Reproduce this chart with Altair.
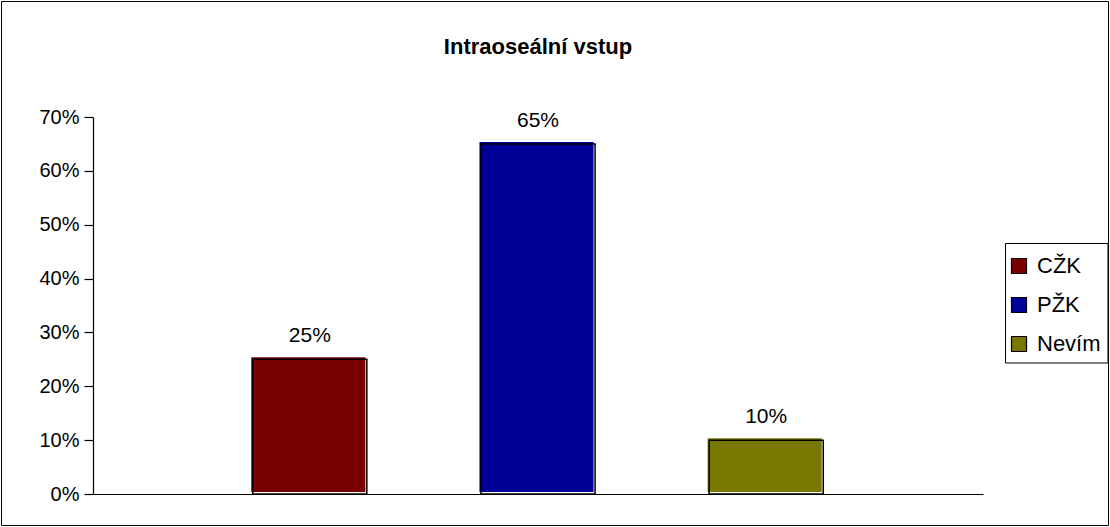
import altair as alt
import pandas as pd

categories = ["CŽK", "PŽK", "Nevím"]
values = [0.25, 0.65, 0.10]
labels = ["25%", "65%", "10%"]
colors = ["#780000", "#000099", "#787800"]
title_text = "Intraoseální vstup"

df = pd.DataFrame({"cat": categories, "val": values, "label": labels})

W, H = 890, 377
PAD_L, PAD_T, PAD_R, PAD_B = 93, 117, 127, 33
FONT = "Liberation Sans"

x_enc = alt.X("cat:N", sort=categories,
              scale=alt.Scale(paddingInner=0.5, paddingOuter=0.7),
              axis=alt.Axis(labels=False, ticks=False, title=None, grid=False,
                            domainColor="black", domainWidth=1.2))
y_enc = alt.Y("val:Q", scale=alt.Scale(domain=[0, 0.7], nice=False),
              axis=alt.Axis(format=".0%", values=[0, .1, .2, .3, .4, .5, .6, .7], title=None, grid=False,
                            domainColor="black", tickColor="black", tickSize=9, labelPadding=5,
                            labelFontSize=20, labelColor="black", labelFont=FONT, domainWidth=1.2, tickWidth=1.2))
color_enc = alt.Color("cat:N", sort=categories,
                      scale=alt.Scale(domain=categories, range=colors),
                      legend=alt.Legend(title=None, orient="none", legendX=915, legendY=138,
                                        padding=0, symbolType="square",
                                        symbolSize=225, symbolStrokeColor="black", symbolStrokeWidth=1.2,
                                        labelFontSize=22, labelFont=FONT, labelColor="black",
                                        labelOffset=7, symbolOffset=0,
                                        rowPadding=17, labelLimit=200))

base = alt.Chart(df)

fill = base.mark_bar(xOffset=-1.5, yOffset=-2).encode(x=x_enc, y=y_enc, color=color_enc)
outline = base.mark_bar(fillOpacity=0, stroke="black", strokeWidth=1.5).encode(x=x_enc, y=y_enc)
text = base.mark_text(dy=-17, baseline="alphabetic", fontSize=21, font=FONT, color="black").encode(
    x=x_enc, y=y_enc, text="label:N")

one = pd.DataFrame({"t": [title_text]})
frame = alt.Chart(one).mark_rect(fillOpacity=0, stroke="black", strokeWidth=1).encode(
    x=alt.value(-PAD_L + 1.5), x2=alt.value(W + PAD_R - 1.5),
    y=alt.value(-PAD_T + 1.5), y2=alt.value(H + PAD_B - 1.5))
legend_box = alt.Chart(one).mark_rect(fill="white", stroke="black", strokeWidth=1).encode(
    x=alt.value(1005.5 - PAD_L), x2=alt.value(1108 - PAD_L),
    y=alt.value(243.5 - PAD_T), y2=alt.value(363 - PAD_T))
title = alt.Chart(one).mark_text(fontSize=22, fontWeight="bold", font=FONT, color="black",
                                 baseline="alphabetic", align="center").encode(
    x=alt.value(W / 2), y=alt.value(54 - PAD_T), text="t:N")

chart = alt.layer(frame, legend_box, fill, outline, text, title).properties(
    width=W, height=H,
    background="white",
    autosize=alt.AutoSizeParams(type="none"),
    padding={"left": PAD_L, "top": PAD_T, "right": PAD_R, "bottom": PAD_B},
).configure_view(stroke="transparent", strokeWidth=0)

chart.save("out.html", embed_options={"renderer": "svg", "actions": False})
